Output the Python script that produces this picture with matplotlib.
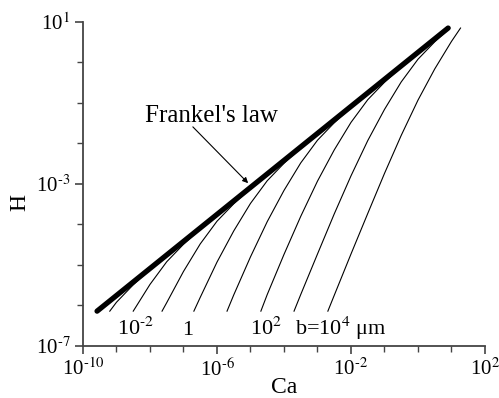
import numpy as np
import matplotlib
matplotlib.use("Agg")
import matplotlib.pyplot as plt
from matplotlib.ticker import FixedLocator, FuncFormatter, NullFormatter

plt.rcParams['font.family'] = ['Liberation Serif', 'DejaVu Serif']
plt.rcParams['mathtext.fontset'] = 'stix'

# values, as log10(Ca) and log10(H)
frankel_logca = [-9.58, 0.90]
frankel_logh = [-6.14, 0.85]

# thin curves, one per wall parameter b (um)
b_1e4_logca = [-2.69, -2.5, -2.0, -1.5, -1.0, -0.5, 0.0, 0.5, 1.0, 1.27]
b_1e4_logh = [-6.14, -5.75, -4.73, -3.73, -2.74, -1.80, -0.93, -0.16, 0.52, 0.85]

b_1e3_logca = [-3.70, -3.5, -3.0, -2.5, -2.0, -1.5, -1.0, -0.5, 0.0, 0.5, 0.95]
b_1e3_logh = [-6.14, -5.73, -4.73, -3.74, -2.80, -1.93, -1.16, -0.48, 0.08, 0.51, 0.85]

b_1e2_logca = [-4.69, -4.5, -4.0, -3.5, -3.0, -2.5, -2.0, -1.5, -1.0, -0.5, 0.0, 0.5, 0.9]
b_1e2_logh = [-6.14, -5.73, -4.74, -3.80, -2.93, -2.16, -1.48, -0.92, -0.49, -0.11, 0.24, 0.58, 0.85]

b_1e1_logca = [-5.70, -5.5, -5.0, -4.5, -4.0, -3.5, -3.0, -2.5, -2.0, -1.5, -1.0, 0.0, 0.9]
b_1e1_logh = [-6.14, -5.74, -4.80, -3.93, -3.16, -2.48, -1.92, -1.49, -1.11, -0.76, -0.42, 0.25, 0.85]

b_1e0_logca = [-6.69, -6.5, -6.0, -5.5, -5.0, -4.5, -4.0, -3.5, -3.0, -2.5, 0.9]
b_1e0_logh = [-6.14, -5.80, -4.93, -4.16, -3.48, -2.92, -2.49, -2.11, -1.76, -1.42, 0.85]

b_1em1_logca = [-7.64, -7.5, -7.0, -6.5, -6.0, -5.5, -5.0, -4.5, -4.0, 0.9]
b_1em1_logh = [-6.14, -5.93, -5.16, -4.48, -3.92, -3.49, -3.11, -2.76, -2.42, 0.85]

b_1em2_logca = [-8.50, -8.0, -7.5, -7.0, -6.5, -6.0, -5.5, 0.9]
b_1em2_logh = [-6.14, -5.48, -4.92, -4.49, -4.11, -3.76, -3.42, 0.85]

b_1em3_logca = [-9.20, -9.0, -8.5, -8.0, -7.5, -7.0, 0.9]
b_1em3_logh = [-6.14, -5.92, -5.49, -5.11, -4.76, -4.42, 0.85]

curve_label_text = [r'10$^{\text{-2}}$', '1', r'10$^{2}$', r'b=10$^{4}$ μm']
curve_label_logca = [-8.99, -6.88, -5.01, -3.67]

x_major = [1e-10, 1e-6, 1e-2, 1e2]
y_major = [1e-7, 1e-3, 1e1]


def pow10_label(v, pos):
    # hyphen-like minus as in the original figure
    e = int(round(np.log10(v)))
    return r'10$^{\text{%d}}$' % e


fig = plt.figure(figsize=(4.99, 3.98), dpi=100)
ax = fig.add_axes([0.1663, 0.1307, 0.8056, 0.8141])

thin = [(b_1e4_logca, b_1e4_logh), (b_1e3_logca, b_1e3_logh),
        (b_1e2_logca, b_1e2_logh), (b_1e1_logca, b_1e1_logh),
        (b_1e0_logca, b_1e0_logh), (b_1em1_logca, b_1em1_logh),
        (b_1em2_logca, b_1em2_logh), (b_1em3_logca, b_1em3_logh)]
for lc, lh in thin:
    ax.plot(10 ** np.array(lc), 10 ** np.array(lh), color='black', lw=0.8)

ax.plot(10 ** np.array(frankel_logca), 10 ** np.array(frankel_logh),
        color='black', lw=3.8, solid_capstyle='round')

ax.set_xscale('log')
ax.set_yscale('log')
ax.set_xlim(1e-10, 1e2)
ax.set_ylim(1e-7, 1e1)

# labels under the curves
for txt, lc in zip(curve_label_text, curve_label_logca):
    ha = 'center' if txt == '1' else 'left'
    ax.text(10 ** lc, 10 ** -6.73, txt, fontsize=16, ha=ha, va='baseline')

ax.text(10 ** -8.15, 10 ** -1.47, "Frankel's law", fontsize=18, va='baseline')
ax.annotate('', xy=(10 ** -5.07, 10 ** -2.98), xytext=(10 ** -6.72, 10 ** -1.59),
            arrowprops=dict(arrowstyle='-|>', color='black', lw=0.8,
                            mutation_scale=8, shrinkA=0, shrinkB=0))

# axes look: only left/bottom, ticks out
for s in ['top', 'right']:
    ax.spines[s].set_visible(False)
for s in ['left', 'bottom']:
    ax.spines[s].set_color('#444444')
    ax.spines[s].set_linewidth(1.3)

ax.xaxis.set_major_locator(FixedLocator(x_major))
ax.xaxis.set_minor_locator(FixedLocator([10.0 ** k for k in range(-10, 3)]))
ax.yaxis.set_major_locator(FixedLocator(y_major))
ax.yaxis.set_minor_locator(FixedLocator([10.0 ** k for k in range(-7, 2)]))
ax.xaxis.set_major_formatter(FuncFormatter(pow10_label))
ax.yaxis.set_major_formatter(FuncFormatter(pow10_label))
ax.xaxis.set_minor_formatter(NullFormatter())
ax.yaxis.set_minor_formatter(NullFormatter())
ax.tick_params(which='major', direction='out', length=6, width=1.2,
               color='#444444', labelsize=15, pad=3)
ax.tick_params(which='minor', direction='out', length=4, width=1.0, color='#444444')

ax.set_xlabel('Ca', fontsize=17)
ax.set_ylabel('H', fontsize=17)
ax.xaxis.set_label_coords(0.5, -0.095)
ax.yaxis.set_label_coords(-0.13, 0.444)

fig.savefig('out.png', dpi=100)
